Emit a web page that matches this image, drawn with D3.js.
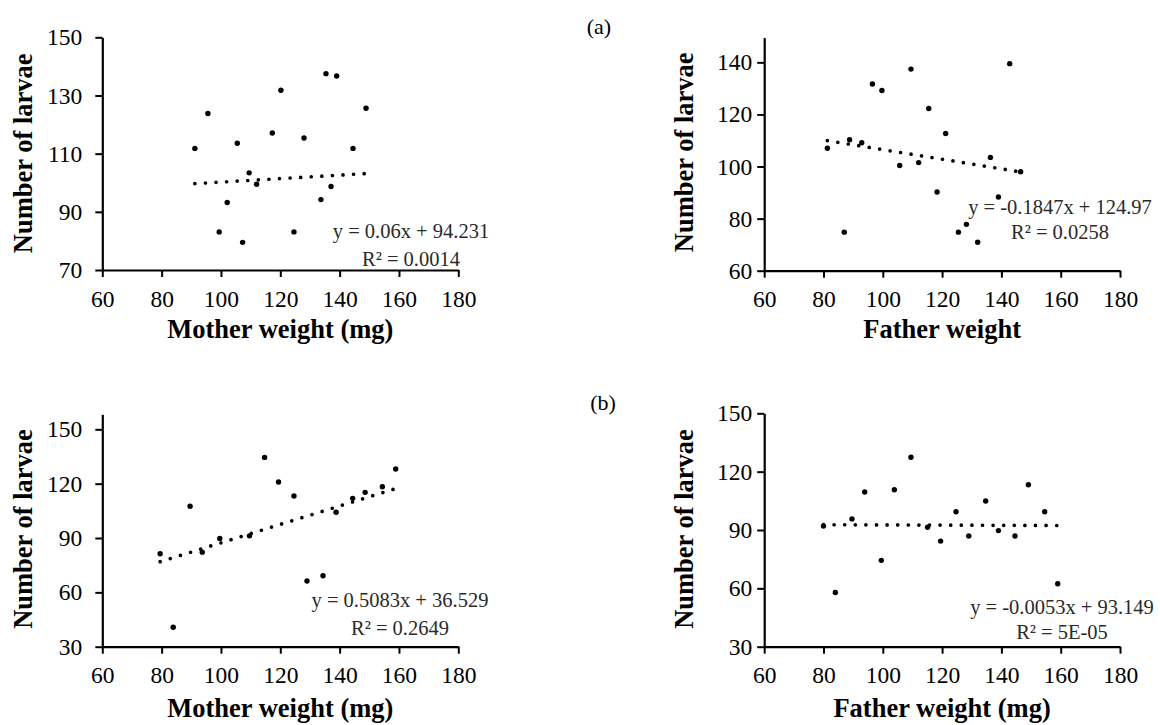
<!DOCTYPE html>
<html><head><meta charset="utf-8">
<script src="https://cdn.jsdelivr.net/npm/d3@7"></script>
<style>
html,body{margin:0;padding:0;background:#fff;}
svg{display:block;}
text{font-family:"Liberation Serif","Times New Roman",serif;fill:#000;}
</style></head>
<body>
<svg id="chart" width="1160" height="725"></svg>
<script>
// ---- data ----
const motherA_x = [91.2, 95.6, 99.4, 102.1, 105.5, 107.3, 109.5, 112.0, 117.3, 120.2, 124.6, 128.0, 133.7, 135.4, 137.1, 139.0, 144.5, 148.9];
const motherA_y = [111.8, 123.8, 83.1, 93.2, 113.6, 79.5, 103.4, 99.5, 117.1, 131.8, 83.1, 115.4, 94.2, 137.5, 98.7, 136.7, 111.8, 125.6];
const fatherA_x = [81.3, 87.0, 88.8, 92.9, 96.5, 99.7, 105.7, 109.5, 112.1, 115.5, 118.3, 121.2, 125.5, 128.2, 132.0, 136.3, 139.0, 142.8, 146.5];
const fatherA_y = [107.0, 74.8, 110.3, 109.1, 131.7, 129.2, 100.4, 137.4, 101.5, 122.3, 90.2, 112.7, 74.8, 77.8, 70.9, 103.5, 88.3, 139.5, 98.0];
const motherB_x = [79.5, 83.9, 89.6, 93.7, 99.6, 109.6, 114.7, 119.4, 124.6, 129.0, 134.4, 138.8, 144.4, 148.6, 154.4, 158.9];
const motherB_y = [81.3, 40.7, 107.5, 82.2, 89.8, 91.2, 134.5, 120.9, 113.2, 66.3, 69.2, 104.2, 111.9, 115.2, 118.3, 128.1];
const fatherB_x = [80.0, 84.0, 89.6, 93.9, 99.5, 103.9, 109.5, 115.1, 119.5, 124.7, 129.0, 134.7, 139.0, 144.6, 149.1, 154.6, 159.0];
const fatherB_y = [92.0, 57.9, 95.7, 109.5, 74.4, 110.7, 127.4, 91.4, 84.3, 99.4, 86.9, 104.9, 89.7, 86.9, 113.3, 99.4, 62.4];

// trendline coefficients [slope, intercept]
const trendMotherA = [0.06, 94.231];
const trendFatherA = [-0.1847, 124.97];
const trendMotherB = [0.5083, 36.529];
const trendFatherB = [-0.0053, 93.149];

const eqMotherA = ["y = 0.06x + 94.231", "R\u00B2 = 0.0014"];
const eqFatherA = ["y = -0.1847x + 124.97", "R\u00B2 = 0.0258"];
const eqMotherB = ["y = 0.5083x + 36.529", "R\u00B2 = 0.2649"];
const eqFatherB = ["y = -0.0053x + 93.149", "R\u00B2 = 5E-05"];

const xTicks = [60, 80, 100, 120, 140, 160, 180];
const yTicksMotherA = [70, 90, 110, 130, 150];
const yTicksFatherA = [60, 80, 100, 120, 140];
const yTicksB = [30, 60, 90, 120, 150];

const yTitle = "Number of larvae";
const xTitles = ["Mother weight (mg)", "Father weight", "Mother weight (mg)", "Father weight (mg)"];
const panelLetters = ["(a)", "(b)"];

// ---- layout ----
const svg = d3.select("#chart");
const SERIF = '"Liberation Serif","Times New Roman",serif';

const panels = [
  {xs: motherA_x, ys: motherA_y, trend: trendMotherA, eq: eqMotherA, xTitle: xTitles[0],
   xr: [102.3, 458.3], yd: [70, 150], yr: [270, 37.3], yTicks: yTicksMotherA, yPad: 13,
   yTitleX: 23.3, yTitleY: 153.3, xTitleY: 338, eqX: 411, eqY: [238, 266]},
  {xs: fatherA_x, ys: fatherA_y, trend: trendFatherA, eq: eqFatherA, xTitle: xTitles[1],
   xr: [764.2, 1120], yd: [60, 149.5], yr: [270.7, 37.6], yTicks: yTicksFatherA, yPad: 5,
   yTitleX: 683.6, yTitleY: 152.3, xTitleY: 338, eqX: 1060, eqY: [213.5, 238.5]},
  {xs: motherB_x, ys: motherB_y, trend: trendMotherB, eq: eqMotherB, xTitle: xTitles[2],
   xr: [102.3, 458.3], yd: [30, 158.3], yr: [646.7, 414.3], yTicks: yTicksB, yPad: 13,
   yTitleX: 23.3, yTitleY: 529, xTitleY: 717, eqX: 400, eqY: [606.5, 635]},
  {xs: fatherB_x, ys: fatherB_y, trend: trendFatherB, eq: eqFatherB, xTitle: xTitles[3],
   xr: [764.2, 1120], yd: [30, 150], yr: [646.7, 413.3], yTicks: yTicksB, yPad: 5,
   yTitleX: 683.6, yTitleY: 529, xTitleY: 717, eqX: 1062, eqY: [613.5, 638.5]}
];

panels.forEach(p => {
  const x = d3.scaleLinear().domain([60, 180]).range(p.xr);
  const y = d3.scaleLinear().domain(p.yd).range(p.yr);
  const g = svg.append("g");

  // trendline (dotted)
  const [xmin, xmax] = d3.extent(p.xs);
  const line = d3.line().x(d => x(d)).y(d => y(p.trend[0] * d + p.trend[1]));
  g.append("path")
    .attr("d", line([xmin, xmax]))
    .attr("fill", "none")
    .attr("stroke", "#000")
    .attr("stroke-width", 3.7)
    .attr("stroke-linecap", "round")
    .attr("stroke-dasharray", "0 10.6");

  // scatter points
  g.selectAll("circle.pt").data(p.xs.map((v, i) => [v, p.ys[i]])).enter()
    .append("circle")
    .attr("cx", d => x(d[0]))
    .attr("cy", d => y(d[1]))
    .attr("r", 2.7)
    .attr("fill", "#000");

  // axes
  const xAxis = d3.axisBottom(x).tickValues(xTicks).tickSize(7).tickSizeOuter(0).tickPadding(13);
  const yAxis = d3.axisLeft(y).tickValues(p.yTicks).tickSize(7).tickSizeOuter(0).tickPadding(p.yPad);

  const gx = g.append("g").attr("transform", `translate(0,${p.yr[0]})`).call(xAxis);
  const gy = g.append("g").attr("transform", `translate(${p.xr[0]},0)`).call(yAxis);
  [gx, gy].forEach(a => {
    a.attr("font-family", null).attr("font-size", null);
    a.select(".domain").attr("stroke", "#000").attr("stroke-width", 2.2);
    a.selectAll(".tick line").attr("stroke", "#000").attr("stroke-width", 2);
    a.selectAll(".tick text").style("font-family", SERIF).style("font-size", "23.5px").attr("fill", "#111");
  });

  // equation text
  p.eq.forEach((t, i) => {
    g.append("text").attr("x", p.eqX).attr("y", p.eqY[i])
      .attr("text-anchor", "middle").style("font-size", "20.5px").style("fill", "#2a2a2a").text(t);
  });

  // axis titles
  g.append("text")
    .attr("transform", `translate(${p.yTitleX},${p.yTitleY}) rotate(-90)`)
    .attr("dy", "0.34em")
    .attr("text-anchor", "middle").style("font-weight", "bold").style("font-size", "26.5px")
    .text(yTitle);
  g.append("text")
    .attr("x", (p.xr[0] + p.xr[1]) / 2).attr("y", p.xTitleY)
    .attr("text-anchor", "middle").style("font-weight", "bold").style("font-size", "26.5px")
    .text(p.xTitle);
});

svg.append("text").attr("x", 599).attr("y", 34).attr("text-anchor", "middle").style("font-size", "22px").text(panelLetters[0]);
svg.append("text").attr("x", 603).attr("y", 410).attr("text-anchor", "middle").style("font-size", "22px").text(panelLetters[1]);
</script>
</body></html>
